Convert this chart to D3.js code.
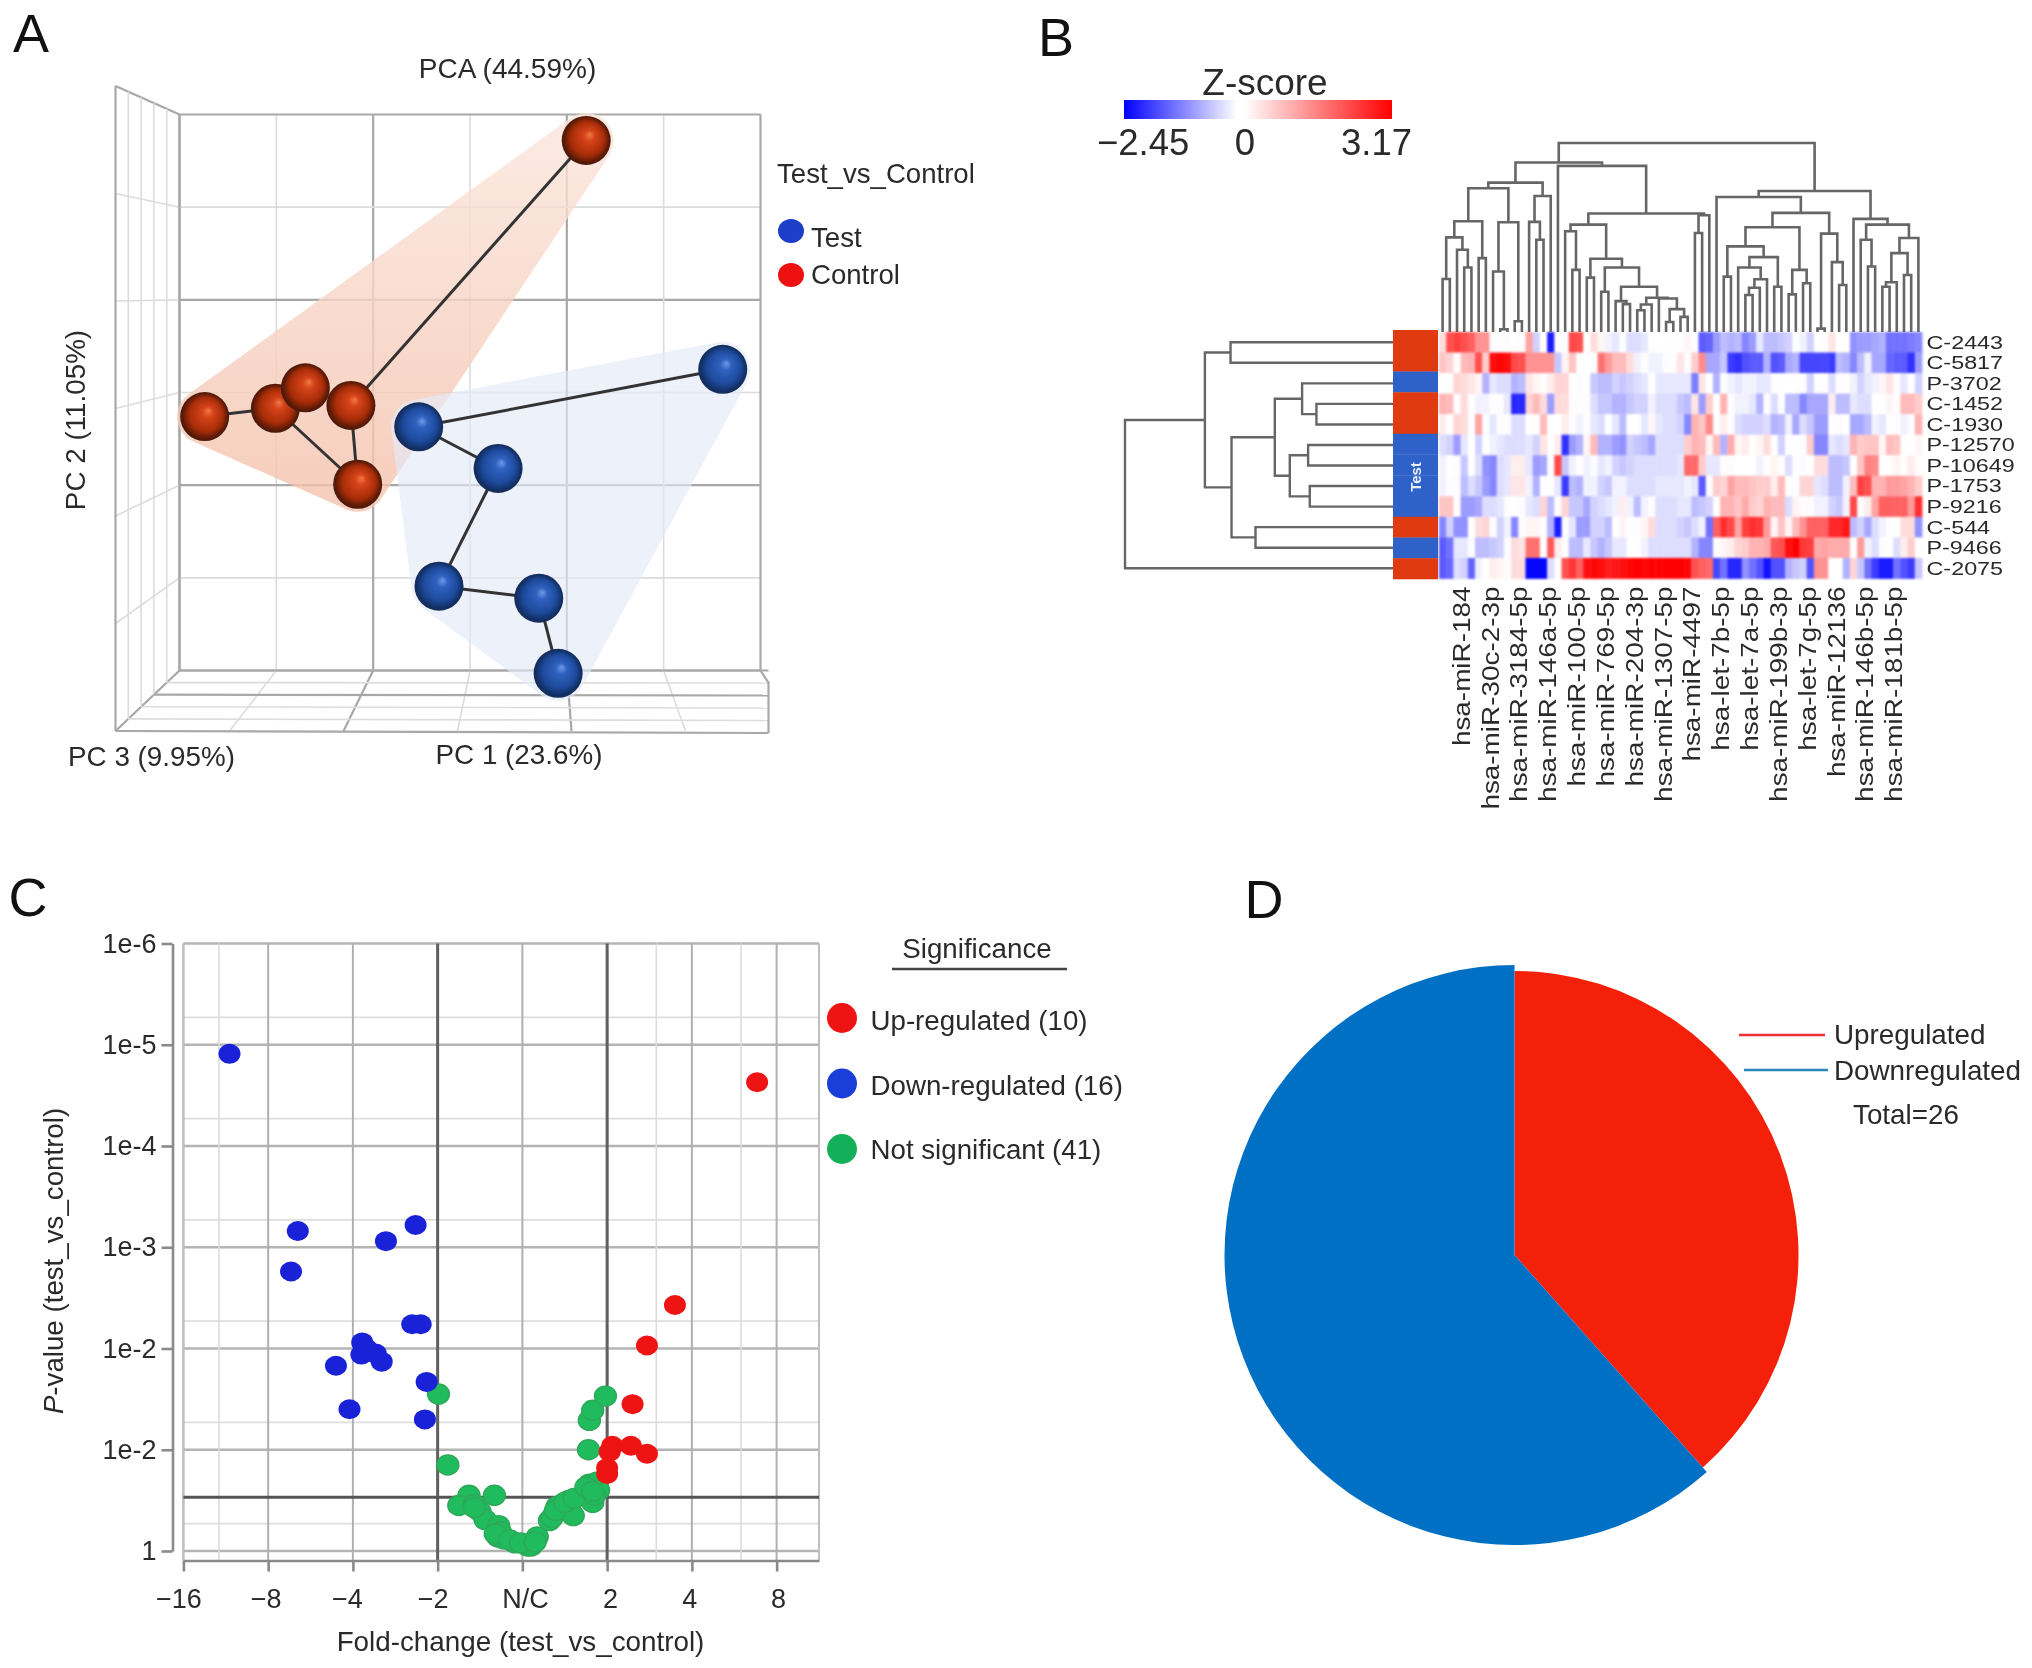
<!DOCTYPE html>
<html><head><meta charset="utf-8">
<script src="https://d3js.org/d3.v7.min.js"></script>
<style>
html,body{margin:0;padding:0;background:#fff}
svg{display:block;filter:blur(0.6px)}
text{font-family:"Liberation Sans",Arial,sans-serif;fill:#2a2a2a}
</style></head><body>
<svg id="c" width="2032" height="1668" xmlns="http://www.w3.org/2000/svg"></svg>
<script>
// ---------- Panel A data ----------
const controlPC1=[1.2,-2.74,-2.01,-1.70,-1.23,-1.16];
const controlPC2=[2.72,-0.26,-0.17,0.05,-0.14,-0.99];
const testPC1=[2.61,-0.53,0.29,-0.32,0.71,0.91];
const testPC2=[0.25,-0.37,-0.82,-2.09,-2.22,-3.03];
const controlEdges=[[0,4],[1,2],[2,5],[4,5]];
const testEdges=[[0,1],[1,2],[2,3],[3,4],[4,5]];
const gridTicks=[-3,-2,-1,0,1,2,3];
const depthTicks=[0,0.2,0.4,0.6,0.8,1];
// ---------- Panel B data ----------
const rowLabels=["C-2443","C-5817","P-3702","C-1452","C-1930","P-12570","P-10649","P-1753","P-9216","C-544","P-9466","C-2075"];
const rowGroups=["Control","Control","Test","Control","Control","Test","Test","Test","Test","Control","Test","Control"];
const miRNALabels=["hsa-miR-184","hsa-miR-30c-2-3p","hsa-miR-3184-5p","hsa-miR-146a-5p","hsa-miR-100-5p","hsa-miR-769-5p","hsa-miR-204-3p","hsa-miR-1307-5p","hsa-miR-4497","hsa-let-7b-5p","hsa-let-7a-5p","hsa-miR-199b-3p","hsa-let-7g-5p","hsa-miR-12136","hsa-miR-146b-5p","hsa-miR-181b-5p"];
const miRNAColumns=[3,7,11,15,19,23,27,31,35,39,43,47,51,55,59,63];
const rowC2443=[0.5,2.2,2.4,2.2,2.0,1.4,1.4,-0.1,-0.1,-0.1,0,-0.1,1.2,-0.5,0,-2.2,0.1,-0.1,2.3,2.2,0,0.5,0.2,-0.2,-0.3,-0.1,-0.4,-0.4,-0.3,0,0,0,0.1,0.1,0.2,-0.1,-1.6,-1.5,-1.0,-0.7,-0.8,-0.7,-1.2,-1.0,-0.3,-0.7,-0.7,-0.6,-0.5,-0.1,-0.2,-0.5,0,-0.1,0.4,0,0,-1.1,-1.0,-1.0,-0.9,-0.8,-1.4,-1.4,-1.4,-1.3,-1.2];
const rowC5817=[0.8,0.6,0.1,0.9,1.0,2.2,0.7,3.0,3.1,3.0,2.3,2.2,1.4,1.4,1.4,1.4,-0.6,0.2,0.8,0.1,0,0,1.8,1.3,0.9,0.9,0.5,-0.2,0.1,-0.2,-0.2,-0.1,0.1,0.4,-0.1,0.7,1.5,-0.9,-0.9,-0.6,-1.9,-2.0,-1.7,-1.6,-1.6,-0.8,-1.7,-1.6,-0.9,-0.8,-1.8,-1.8,-1.8,-1.8,-1.9,-0.7,-0.8,-1.2,-0.7,-0.2,-0.9,-0.9,-1.5,-1.6,-1.6,-2.0,-1.0];
const rowP3702=[0,0.1,0.6,0.5,0.4,0.2,-0.8,-0.3,-0.4,-0.4,-0.8,-0.7,0.4,0.2,-0.1,0.3,0.6,0.6,0,-0.1,0,-0.6,-0.7,-0.7,-0.5,-0.6,-0.5,-0.4,-0.3,0,-0.3,-0.3,-0.3,-0.3,-0.3,-1.3,0.4,0,-0.8,-0.1,-0.2,-0.3,-0.2,-0.2,-0.3,-0.3,0.1,0.1,0,0,-0.1,-0.5,0.1,0.1,-0.4,0.1,0.1,-0.2,-0.5,-0.3,-0.2,0.2,0.4,0.1,-0.3,0,-0.5];
const rowC1452=[1.0,0.9,0.1,0.5,0.1,-0.2,-0.2,0.1,-0.1,-0.3,-2.1,-2.1,0.6,0.9,0.5,-1.0,0.5,0.5,-0.1,-0.1,-0.1,-0.4,-0.6,-0.6,-0.8,-0.8,-0.6,-0.5,-0.5,-0.2,-0.4,-0.4,-0.4,-0.6,-0.7,0.4,-1.0,0.7,0,1.0,-0.1,-0.2,-0.2,-0.3,-0.8,-0.1,-0.4,-0.1,-0.7,-0.7,-1.2,-0.9,-0.9,-0.9,0.3,-0.7,-0.7,-0.3,-0.4,-0.4,0,0,0.2,0.1,0.9,0.9,0.7];
const rowC1930=[0.3,0,0.6,0.5,-0.1,1.2,-0.1,-0.3,-0.1,-0.1,-0.4,-0.4,0,0.1,0.9,0,0,0.3,-0.1,-0.2,0.1,-0.3,-0.4,0,-0.3,-0.7,0,0,-0.3,0.2,-0.3,-0.4,-0.4,-0.5,-1.2,1.0,0.8,1.5,0,0.3,-0.1,-0.4,-0.5,-0.5,-0.5,-0.4,-0.8,-0.7,-0.2,-0.9,-0.4,-0.6,-1.0,-1.0,0,-0.1,0,-0.9,-0.9,-0.7,-0.2,-0.3,0,0.1,-0.2,-0.1,1.0];
const rowP12570=[-0.4,-0.5,-1.0,-0.3,0,-0.5,0,-0.2,-0.3,-0.4,-0.4,-0.4,-0.3,-0.5,0.4,0.1,0.3,-2.0,-1.0,-0.8,0.2,0.9,-0.8,-0.8,-1.0,-1.1,-0.5,-0.6,-0.7,-0.9,-0.4,-0.4,-0.4,-0.4,0.7,1.0,0.9,0.2,0.9,-0.8,1.1,0.2,0.3,0.1,0.2,0.5,0.1,-0.5,0,0,-0.1,0.7,-1.2,-1.2,-0.3,-0.4,-0.3,1.0,0.7,0.8,0.8,0.2,0.9,0.8,0.1,0,0.2];
const rowP10649=[-0.2,0,-0.1,-0.6,0,-0.4,-1.1,-1.2,-0.4,-0.3,0.3,0.3,-0.3,-1.0,-0.9,-0.1,2.3,-0.6,-0.2,0,-0.2,-0.1,-0.3,-0.2,-0.5,-0.6,-0.5,-0.4,-0.4,-0.4,-0.4,-0.4,-0.4,-0.3,1.9,1.9,0.7,-0.3,-0.3,0.1,-0.1,0,0,0,-0.2,0.1,0.2,0.1,-0.4,-0.1,-0.1,0,0.5,0.5,-0.7,-0.7,-0.6,0.1,0.8,1.6,1.5,0,0.1,0.2,0.1,0.3,0.1];
const rowP1753=[-0.2,-0.1,-0.1,-0.7,-0.4,-0.6,-1.0,-1.2,-0.4,-0.3,0.4,0.4,-0.2,-0.8,0,0.1,-0.3,-1.9,-0.7,-0.8,-0.2,-0.2,-0.5,-0.6,-0.2,-0.2,-0.4,-0.4,-0.4,-0.4,-0.3,-0.3,-0.3,-0.3,-0.2,-0.3,-1.6,0.1,0.7,0.6,1.2,0.9,0.9,0.8,0.7,0.7,0.3,0.9,0,-0.1,0.6,0.6,-0.3,-0.4,-0.7,-0.7,-0.2,0.9,2.4,2.2,1.0,1.0,1.3,1.3,1.2,1.0,0.7];
const rowP9216=[0.8,0.8,0.1,-1.0,-1.0,-0.9,-0.4,-0.4,-0.3,-0.1,0,-0.1,-0.3,-0.4,0.6,-0.7,0.1,0.6,-0.6,-0.6,-0.9,-0.5,-0.4,-0.3,-0.2,0.3,-0.2,-0.7,-0.2,-0.1,-0.4,-0.4,-0.4,-0.3,-0.3,-0.7,-0.6,-0.5,0.1,1.0,1.0,0.8,1.1,0.7,0.6,1.0,0.9,0.9,-0.4,0.2,0.1,-0.1,-0.2,-0.2,-0.5,-0.6,-0.2,2.3,0.1,0.3,1.2,2.0,2.0,2.0,2.0,1.3,2.6];
const rowC544=[-1.2,-0.5,-1.1,-1.1,0,0.5,0.6,-0.1,-0.5,-0.2,-1.2,-0.1,0.2,0.2,0.1,-0.8,-2.2,-0.1,-0.3,-1.0,-1.0,-0.5,-0.5,-0.7,0.1,0.2,-0.1,-0.1,0.2,0.5,-0.4,-0.4,-0.4,-0.5,-0.6,-0.4,-0.2,-1.4,2.0,2.6,2.3,1.2,2.4,2.6,2.5,1.3,0.2,0.8,0.2,0.9,1.4,2.0,2.0,2.0,2.7,2.7,2.9,-0.7,-0.5,-0.9,-0.4,-0.2,0.1,0,0.5,0.5,-1.1];
const rowP9466=[-1.6,-1.4,-0.3,-0.3,-0.1,-0.7,-0.7,-0.6,-0.5,-0.1,0.5,0.4,1.8,1.8,0.1,2.1,0.3,-0.1,-0.7,-0.7,-0.3,-0.6,-0.8,-0.6,-0.3,-0.3,0,0,-0.2,-0.4,-0.4,-0.4,-0.4,-0.4,-0.4,-0.8,-1.2,-1.2,0.1,0.2,0.3,0.6,0.7,1.0,1.0,1.1,2.1,2.2,3.0,3.17,2.5,2.4,1.1,1.2,1.1,1.1,1.1,0.1,1.3,-0.2,-0.4,-0.1,0,-0.4,0.3,0.7,-0.1];
const rowC2075=[-1.6,-1.5,-0.4,-0.5,-1.5,-0.2,0,0.3,0.2,0.1,0.5,0.5,-2.4,-2.4,-2.4,-0.4,-0.1,2.2,2.5,2.0,3.0,3.1,3.0,2.8,2.9,3.0,3.1,3.17,3.1,3.17,3.17,3.17,3.17,3.17,3.1,2.2,2.0,1.9,-1.8,-1.4,-2.1,-2.1,-1.1,-1.4,-1.7,-2.3,-1.7,-1.7,-0.8,-0.6,-0.5,-1.7,1.4,1.4,0,0,-0.8,0.6,-0.6,-1.4,-1.9,-2.2,-2.2,-1.4,-1.7,-1.9,-0.6];
const heatRows=[rowC2443,rowC5817,rowP3702,rowC1452,rowC1930,rowP12570,rowP10649,rowP1753,rowP9216,rowC544,rowP9466,rowC2075];
// merge heights of clusters: [height, left, right]; 0 is a leaf
const columnTree=[5.63,
 [5.05,
  [4.45,
   [4.28,
    [3.30,[2.82,[1.58,0,0],[2.45,0,[1.92,0,0]]],[2.20,0,0]],
    [3.27,[1.80,0,[0.08,0,0]],[0.32,0,0]]],
   [4.05,[3.28,0,[2.75,0,0]],0]],
  [4.95,0,
   [3.53,
    [3.20,
     [3.00,0,[1.85,0,0]],
     [2.18,[1.62,0,0],
      [1.92,[1.20,0,0],
       [1.35,[0.92,0,[0.83,0,0]],
        [1.02,[0.82,[0.65,0,0],0],[1.00,0,[0.68,[0.30,0,0],[0.45,0,0]]]]]]]],
    [3.48,[2.95,0,0],0]]]],
 [4.20,
  [4.02,0,
   [3.55,
    [3.12,
     [2.55,[1.65,0,0],
      [2.23,[1.92,0,[1.57,[1.32,[1.10,0,0],0],0]],[1.35,0,0]]],
     [1.85,[1.12,0,0],[1.45,0,0]]],
    [2.93,[0.10,0,0],[2.08,0,[1.40,0,0]]]]],
  [3.37,0,
   [3.20,[2.75,0,[1.95,0,0]],
    [2.80,[2.35,[1.48,[1.35,0,0],0],[1.70,0,0]],0]]]]];
const rowTree=[8.05,[5.65,[4.88,0,0],[4.85,[3.55,[2.73,0,[2.3,0,0]],[3.1,[2.55,0,0],[2.5,0,0]]],[4.13,0,0]]],0];
// ---------- Panel C data ----------
const downFC=[-3.456,-2.65,-2.73,-1.26,-1.61,-1.30,-1.20,-1.89,-1.90,-1.84,-1.73,-1.66,-2.20,-1.13,-2.04,-1.15];
const downP=[4.91,3.16,2.76,3.22,3.06,2.24,2.24,2.06,1.94,2.0,1.95,1.87,1.83,1.67,1.40,1.30];
const upFC=[2.77,1.80,1.47,1.30,1.06,1.28,1.47,1.03,1.0,1.0];
const upP=[4.63,2.43,2.03,1.45,1.04,1.04,0.96,0.98,0.82,0.76];
const nsFC=[-0.99,-0.88,-0.63,-0.75,-0.57,-0.5,-0.44,-0.33,-0.28,-0.29,-0.22,-0.09,0.06,0.105,0.175,0.32,0.41,0.55,0.57,0.60,0.83,0.79,0.88,0.90,0.78,0.79,0.83,0.98,-0.26,-0.32,-0.15,-0.02,0.15,0.35,0.39,0.5,0.61,0.85,0.75,0.83,-0.57];
const nsP=[1.55,0.85,0.55,0.45,0.46,0.39,0.31,0.55,0.25,0.14,0.12,0.08,0.05,0.05,0.14,0.30,0.44,0.50,0.49,0.35,0.48,0.66,0.68,0.60,1.00,1.29,1.39,1.53,0.19,0.17,0.11,0.08,0.09,0.33,0.40,0.48,0.52,0.55,0.63,0.59,0.43];
const volcanoYTicks=[6,5,4,3,2,1,0];
const volcanoYLabels=["1e-6","1e-5","1e-4","1e-3","1e-2","1e-2","1"];
const volcanoXTicks=[-4,-3,-2,-1,0,1,2,3];
const volcanoXLabels=["\u221216","\u22128","\u22124","\u22122","N/C","2","4","8"];
const volcanoXMinor=[-3.58,1.58,2.58];
const foldThresholds=[-1,1];
const pThreshold=0.53;
const significanceLabels=["Up-regulated (10)","Down-regulated (16)","Not significant (41)"];
// ---------- Panel D data ----------
const pieLabels=["Upregulated","Downregulated"];
const pieValues=[10,16];
const pieTotal="Total=26";

const svg=d3.select("#c");
const txt=(g,x,y,s,size,anchor="start",extra={})=>{
  const t=g.append("text").attr("x",x).attr("y",y).attr("font-size",size).attr("text-anchor",anchor)
   .attr("dominant-baseline","central").text(s);
  Object.entries(extra).forEach(([k,v])=>t.attr(k,v));return t;};
const defs=svg.append("defs");
function sphereGrad(id,stops){
  const g=defs.append("radialGradient").attr("id",id).attr("cx","50%").attr("cy","50%").attr("r","52%").attr("fx","58%").attr("fy","38%");
  stops.forEach(([o,c])=>g.append("stop").attr("offset",o).attr("stop-color",c));
}
sphereGrad("sControl",[[0,"#f07a45"],[0.22,"#d6431a"],[0.65,"#a82d08"],[0.88,"#5e1a06"],[1,"#3a1a10"]]);
sphereGrad("sTest",[[0,"#6f9ae6"],[0.22,"#2f62c0"],[0.65,"#1d4a9c"],[0.88,"#123066"],[1,"#1b2a50"]]);
const hg=defs.append("linearGradient").attr("id","hullC").attr("x1",0).attr("y1",0).attr("x2",0).attr("y2",1);
hg.append("stop").attr("offset",0).attr("stop-color","#fbe4da");
hg.append("stop").attr("offset",1).attr("stop-color","#f5c3ae");

// ===== Panel letters =====
[["A",13,33],["B",1038,36.5],["C",8.5,896.5],["D",1244.5,898.5]].forEach(d=>txt(svg,d[1],d[2],d[0],54).style("fill","#111"));

// ===== Panel A =====
const A=svg.append("g");
const ax=d3.scaleLinear([-3,3],[179.5,760.5]), ay=d3.scaleLinear([-3,3],[670.5,114.5]);
const fx=d3.scaleLinear([-3,3],[115.5,799.5]), fy=d3.scaleLinear([-3,3],[731,86]);
const P=(px,py,t)=>[ax(px)+(fx(px)-ax(px))*t, ay(py)+(fy(py)-ay(py))*t];
const edgeX=768.5;
const gl=(a,b,major)=>A.append("line").attr("x1",a[0]).attr("y1",a[1]).attr("x2",b[0]).attr("y2",b[1])
  .attr("stroke",major?"#a8a8a8":"#dcdcdc").attr("stroke-width",major?2.2:1.6);
gridTicks.forEach((t,i)=>{
  const m=i%2===0;
  gl([ax(t),ay(-3)],[ax(t),ay(3)],m);
  gl([ax(-3),ay(t)],[ax(3),ay(t)],m);
  gl(P(-3,t,0),P(-3,t,1),m&&i<6?false:m);
  let f=P(t,-3,1); if(f[0]>edgeX){f=[edgeX,ay(-3)+(f[1]-ay(-3))*(edgeX-ax(t))/(f[0]-ax(t))];}
  gl(P(t,-3,0),f,m);
});
depthTicks.forEach((t,i)=>{
  gl(P(-3,3,t),P(-3,-3,t),i===0||i===5);
  const L=P(-3,-3,t);
  gl(L,[edgeX,L[1]+2*t],i===0||i===5||i===2);
});
gl([edgeX,ay(-3)+11],[edgeX,P(-3,-3,1)[1]+2],true);
const controlPts=controlPC1.map((v,i)=>[ax(v),ay(controlPC2[i])]);
const testPts=testPC1.map((v,i)=>[ax(v),ay(testPC2[i])]);
const R=24.5;
const hull=(pts,col,op,extra)=>A.append("path").attr("d","M"+d3.polygonHull(pts).join("L")+"Z")
  .attr("fill",col).attr("stroke",col).attr("stroke-width",extra*2).attr("stroke-linejoin","round").attr("opacity",op);
hull(controlPts,"url(#hullC)",0.8,R+3);
hull(testPts,"#e3eaf8",0.66,R+3);
const drawEdges=(pts,ed)=>ed.forEach(e=>A.append("line").attr("x1",pts[e[0]][0]).attr("y1",pts[e[0]][1]).attr("x2",pts[e[1]][0]).attr("y2",pts[e[1]][1]).attr("stroke","#333").attr("stroke-width",3));
drawEdges(controlPts,controlEdges);drawEdges(testPts,testEdges);
A.selectAll("circle.c").data(controlPts).join("circle").attr("cx",d=>d[0]).attr("cy",d=>d[1]).attr("r",R).attr("fill","url(#sControl)");
A.selectAll("circle.t").data(testPts).join("circle").attr("cx",d=>d[0]).attr("cy",d=>d[1]).attr("r",R).attr("fill","url(#sTest)");
txt(A,507.5,68,"PCA (44.59%)",28,"middle");
txt(A,0,0,"PC 2 (11.05%)",27.8,"middle",{transform:"translate(75,420) rotate(-90)"});
txt(A,151.5,756.5,"PC 3 (9.95%)",27.8,"middle");
txt(A,519,754,"PC 1 (23.6%)",27.8,"middle");
txt(A,777,173,"Test_vs_Control",27.6);
A.append("ellipse").attr("cx",791).attr("cy",231).attr("rx",13).attr("ry",12).attr("fill","#1d3fc8");
A.append("ellipse").attr("cx",791).attr("cy",275).attr("rx",13).attr("ry",12).attr("fill","#ee1111");
txt(A,811,237,"Test",27.6);txt(A,811,274,"Control",27.6);

// ===== Panel B =====
const B=svg.append("g");
const heatCol=d3.scaleLinear().domain([-2.45,-0.08,0.08,3.17]).range(["#0000ff","#ffffff","#ffffff","#ff0000"]).interpolate(d3.interpolateRgb);
const cols=d3.range(67);
const xB=d3.scaleBand(cols,[1439,1922]), yB=d3.scaleBand(d3.range(12),[332,578.5]);
const heatG=B.append("g").style("filter","blur(1.1px)");
heatRows.forEach((row,r)=>heatG.selectAll(null).data(row).join("rect")
  .attr("x",(d,j)=>xB(j)).attr("y",yB(r)).attr("width",xB.bandwidth()+0.4).attr("height",yB.bandwidth()+0.4)
  .attr("fill",d=>heatCol(d)));
const annCol={Control:"#e03a10",Test:"#2e62c8"};
const yAnn=d3.scaleBand(d3.range(12),[330,579]);
B.selectAll("rect.a").data(rowGroups).join("rect").attr("x",1393).attr("width",45)
  .attr("y",(d,i)=>yAnn(i)).attr("height",yAnn.bandwidth()+0.3).attr("fill",d=>annCol[d]);
txt(B,0,0,"Test",15,"middle",{transform:"translate(1415,477) rotate(-90)"}).style("fill","#e6eefc").style("font-weight","bold");
rowLabels.forEach((s,i)=>B.append("text").attr("font-size",17.7).attr("dominant-baseline","central")
  .attr("transform",`translate(1926.5,${yB(i)+yB.bandwidth()/2}) scale(1.32,1)`).text(s));
miRNALabels.forEach((s,i)=>B.append("text").attr("font-size",24.8).attr("text-anchor","end").attr("dominant-baseline","central")
  .attr("transform",`translate(${xB(miRNAColumns[i])+xB.bandwidth()/2-3},586.5) rotate(-90) scale(1.125,1)`).text(s));
function layoutTree(tree){
  const root=d3.hierarchy(tree,d=>Array.isArray(d)?d.slice(1):null);let k=0;
  root.eachAfter(n=>{if(!n.children){n.pos=k++;n.h=0;}else{n.pos=d3.mean(n.children,c=>c.pos);n.h=n.data[0];}});
  return root;
}
const colPos=d3.scaleLinear([0,66],[xB(0)+xB.bandwidth()/2,xB(66)+xB.bandwidth()/2]);
const colH=d3.scaleLinear([0,5.63],[332,143]);
const colRoot=layoutTree(columnTree);
const dendroStroke="#666666";
B.append("path").attr("fill","none").attr("stroke",dendroStroke).attr("stroke-width",2.6)
 .attr("d",colRoot.descendants().filter(n=>n.children).map(n=>{const [a,b]=n.children;
   return `M${colPos(a.pos)},${colH(a.h)}V${colH(n.h)}H${colPos(b.pos)}V${colH(b.h)}`;}).join(""));
const rowPos=d3.scaleLinear([0,11],[yB(0)+yB.bandwidth()/2,yB(11)+yB.bandwidth()/2]);
const rowH=d3.scaleLinear([0,8.05],[1393,1125]);
const rowRoot=layoutTree(rowTree);
B.append("path").attr("fill","none").attr("stroke",dendroStroke).attr("stroke-width",2.4)
 .attr("d",rowRoot.descendants().filter(n=>n.children).map(n=>{const [a,b]=n.children;
   return `M${rowH(a.h)},${rowPos(a.pos)}H${rowH(n.h)}V${rowPos(b.pos)}H${rowH(b.h)}`;}).join(""));
const barX=d3.scaleLinear([-2.45,3.17],[1124,1392]);
const lg=defs.append("linearGradient").attr("id","zgrad");
heatCol.domain().forEach(v=>lg.append("stop").attr("offset",(v+2.45)/5.62).attr("stop-color",heatCol(v)));
B.append("rect").attr("x",barX(-2.45)).attr("y",100).attr("width",barX(3.17)-barX(-2.45)).attr("height",19).attr("fill","url(#zgrad)");
txt(B,1265,82,"Z-score",37,"middle");
txt(B,1097,142,"\u22122.45",36.5);
txt(B,barX(0)+4,142,"0",36.5,"middle");
txt(B,1412,142,"3.17",36.5,"end");

// ===== Panel C =====
const C=svg.append("g");
const xC=d3.scaleLinear([-4,3.5],[183.4,819]), yC=d3.scaleLinear([0,6],[1551,943.5]);
const gridC=C.append("g");
const hl=(v,c,w)=>gridC.append("line").attr("x1",xC(-4)).attr("x2",xC(3.5)).attr("y1",yC(v)).attr("y2",yC(v)).attr("stroke",c).attr("stroke-width",w);
const vl=(v,c,w)=>gridC.append("line").attr("x1",xC(v)).attr("x2",xC(v)).attr("y1",yC(6)).attr("y2",1560.5).attr("stroke",c).attr("stroke-width",w);
volcanoYTicks.forEach(v=>{hl(v,"#b4b4b4",2.4);if(v<6){hl(v+0.27,"#dedede",1.6);}});
volcanoXMinor.forEach(v=>vl(v,"#dcdcdc",1.6));
volcanoXTicks.forEach(v=>vl(v,"#b0b0b0",2));
vl(-4,"#c0c0c0",2);vl(3.5,"#c0c0c0",2);
foldThresholds.forEach(v=>vl(v,"#606060",3));
hl(pThreshold,"#555",3);
const yAxis=d3.axisLeft(yC).tickValues(volcanoYTicks).tickFormat((d,i)=>volcanoYLabels[i]).tickSize(11).tickPadding(5).tickSizeOuter(0);
const xAxis=d3.axisBottom(xC).tickValues(volcanoXTicks).tickFormat((d,i)=>volcanoXLabels[i]).tickSize(11).tickPadding(17).tickSizeOuter(0);
const ya=C.append("g").attr("transform","translate(172.5,0)").call(yAxis);
const xa=C.append("g").attr("transform","translate(0,1560.5)").call(xAxis);
[ya,xa].forEach(g=>{g.selectAll("path,line").attr("stroke","#8a8a8a").attr("stroke-width",2.6);
  g.selectAll("text").attr("font-size",27).style("font-family",'"Liberation Sans"').style("fill","#2a2a2a");});
const xLabelNudge=[-5,-2.6,-6,-5,2.6,3,-2.6,1.3];
xa.selectAll("text").attr("dx",(d,i)=>xLabelNudge[i]);
const dots=(fc,p,col,st)=>C.append("g").selectAll("ellipse").data(fc).join("ellipse")
  .attr("cx",d=>xC(d)).attr("cy",(d,i)=>yC(p[i])).attr("rx",11).attr("ry",10).attr("fill",col).attr("stroke",st).attr("stroke-width",st==="none"?0:1.4);
dots(nsFC,nsP,"#20bb5c","#2ea85a");
dots(downFC,downP,"#1a22d8","none");
dots(upFC,upP,"#ee1414","none");
txt(C,520.5,1641,"Fold-change (test_vs_control)",27.8,"middle");
const yt=C.append("text").attr("font-size",27.7).attr("text-anchor","middle").attr("dominant-baseline","central").attr("transform","translate(53,1261) rotate(-90)");
yt.append("tspan").attr("font-style","italic").text("P");yt.append("tspan").text("-value (test_vs_control)");
txt(C,977,948,"Significance",27.7,"middle");
C.append("line").attr("x1",892).attr("x2",1067).attr("y1",969).attr("y2",969).attr("stroke","#444").attr("stroke-width",2.4);
const legCols=["#ee1414","#1a3ed8","#12b058"], legY=d3.scalePoint([0,1,2],[1020,1151]), legTextY=d3.scalePoint([0,1,2],[1022,1151]);
significanceLabels.forEach((s,i)=>{
  C.append("circle").attr("cx",842).attr("cy",legY(i)-2).attr("r",15).attr("fill",legCols[i]);
  txt(C,870.5,legTextY(i)-1.5,s,27.7);
});

// ===== Panel D =====
const D=svg.append("g").attr("transform","translate(1514.5,1255)");
const pieCols=["#f5200a","#0070c4"], pieR=[284,290];
const arcs=d3.pie().sort(null)(pieValues);
D.selectAll("path").data(arcs).join("path").attr("d",(d,i)=>d3.arc().innerRadius(0).outerRadius(pieR[i])(d)).attr("fill",(d,i)=>pieCols[i]);
const lY=[1035,1070], lTextY=[1034.5,1070.5], lX=[[1739,1825],[1744,1828]], lineCols=["#f03030","#2a86b8"];
pieLabels.forEach((s,i)=>{
  svg.append("line").attr("x1",lX[i][0]).attr("x2",lX[i][1]).attr("y1",lY[i]).attr("y2",lY[i]).attr("stroke",lineCols[i]).attr("stroke-width",2.4);
  txt(svg,1834,lTextY[i],s,27.8);
});
txt(svg,1853,1114.5,pieTotal,27.8);
</script>
</body></html>
